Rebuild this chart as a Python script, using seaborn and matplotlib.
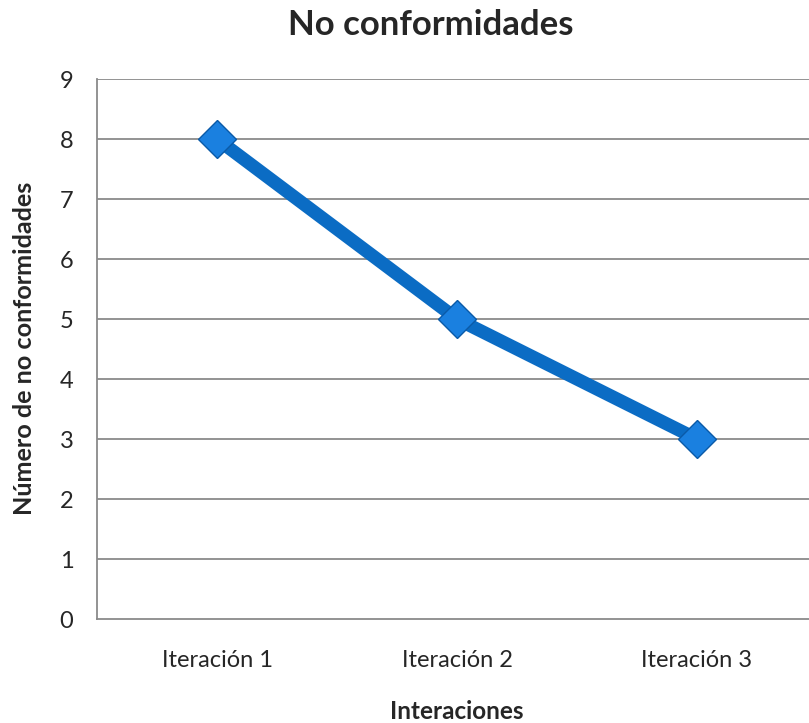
import pandas as pd
import matplotlib.pyplot as plt
import seaborn as sns

iteraciones = ["Iteración 1", "Iteración 2", "Iteración 3"]
no_conformidades = [8, 5, 3]
y_ticks = list(range(0, 10))

sns.set_style("white")
plt.rcParams["font.family"] = ["Lato", "DejaVu Sans"]

df = pd.DataFrame({"Iteracion": iteraciones, "NC": no_conformidades})

fig = plt.figure(figsize=(8.09, 7.23), dpi=100)
ax = fig.add_axes([0.1199, 0.1438, 0.89, 0.7469])

# horizontal gridlines like the Excel chart
for v in y_ticks[1:]:
    ax.axhline(v, color="#8a8a8a", lw=1.3, zorder=1)

sns.lineplot(data=df, x="Iteracion", y="NC", ax=ax, color="#0b6cc4", lw=9.5,
             marker="D", markersize=19, markerfacecolor="#1a80e0",
             markeredgecolor="#0a5aa8", markeredgewidth=1, zorder=3, sort=False)

ax.set_xlim(-0.5, 2.5)
ax.set_ylim(0, 9)
ax.set_yticks(y_ticks)
ax.tick_params(axis="y", length=7, width=1.3, color="#8a8a8a", labelsize=17, pad=10)
ax.tick_params(axis="x", length=0, labelsize=17, pad=22)

for s in ["top", "right"]:
    ax.spines[s].set_visible(False)
for s in ["left", "bottom"]:
    ax.spines[s].set_color("#8a8a8a")
    ax.spines[s].set_linewidth(1.3)

ax.set_xlabel("Interaciones", fontsize=17.5, fontweight="bold", va="baseline")
ax.xaxis.set_label_coords(0.5, (619 - 719) / 540)
ax.set_ylabel("Número de no conformidades", fontsize=18.2, fontweight="bold")
ax.yaxis.set_label_coords((36 - 97) / 720, (619 - 348) / 540)
fig.text(0.532, 1 - 35 / 723, "No conformidades", ha="center", va="baseline",
         fontsize=25, fontweight="bold")

fig.savefig("out.png", dpi=100)
